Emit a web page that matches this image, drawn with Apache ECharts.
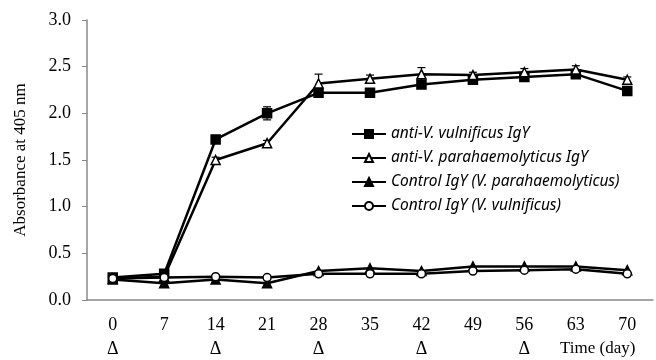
<!DOCTYPE html>
<html><head><meta charset="utf-8">
<script src="https://cdn.jsdelivr.net/npm/echarts@6/dist/echarts.min.js"></script>
<style>html,body{margin:0;padding:0;background:#fff}#c{width:656px;height:360px}</style>
</head><body><div id="c"></div>
<script>
const days = ['0','7','14','21','28','35','42','49','56','63','70'];
const marked = ['0','14','28','42','56'];
const antiVulnificus = [0.24,0.28,1.72,2.00,2.22,2.22,2.31,2.36,2.39,2.42,2.24];
const antiVulnificusErr = [0.02,0.02,0.04,0.07,0.03,0.02,0.02,0.02,0.03,0.03,0.03];
const antiPara = [0.23,0.25,1.50,1.68,2.32,2.37,2.42,2.41,2.44,2.47,2.36];
const antiParaErr = [0.02,0.02,0.03,0.03,0.10,0.04,0.07,0.03,0.04,0.04,0.03];
const ctrlPara = [0.22,0.18,0.22,0.18,0.31,0.34,0.31,0.36,0.36,0.36,0.32];
const ctrlVulnificus = [0.23,0.24,0.25,0.24,0.28,0.28,0.28,0.31,0.32,0.33,0.28];
const names = ['anti-V. vulnificus IgY','anti-V. parahaemolyticus IgY','Control IgY (V. parahaemolyticus)','Control IgY (V. vulnificus)'];

const chart = echarts.init(document.getElementById('c'));
const serif = '"Liberation Serif","Times New Roman",serif';
function errSeries(vals, errs){
  return {
    type:'custom', silent:true, z:1,
    data: vals.map((v,i)=>[i, v, errs[i]]),
    renderItem:function(params, api){
      const i = api.value(0), v = api.value(1), e = api.value(2);
      const top = api.coord([i, v+e]), bot = api.coord([i, v-e]);
      const w = 4;
      return {type:'group', children:[
        {type:'line', shape:{x1:top[0],y1:top[1],x2:bot[0],y2:bot[1]}, style:{stroke:'#000',lineWidth:1.2}},
        {type:'line', shape:{x1:top[0]-w,y1:top[1],x2:top[0]+w,y2:top[1]}, style:{stroke:'#000',lineWidth:1.2}},
        {type:'line', shape:{x1:bot[0]-w,y1:bot[1],x2:bot[0]+w,y2:bot[1]}, style:{stroke:'#000',lineWidth:1.2}}
      ]};
    }
  };
}
function lineSeries(name, data, symbol, fill, size){
  return {
    name, type:'line', data, symbol, symbolSize:size, z:3,
    lineStyle:{color:'#000', width:2.5},
    itemStyle:{color:fill, borderColor:'#000', borderWidth:1.5},
    emphasis:{disabled:true}
  };
}
chart.setOption({
  animation:false,
  grid:{left:87, right:3, top:20, bottom:60, outerBoundsMode:'none', containLabel:false},
  legend:{
    data:names, orient:'vertical', left:346, top:121,
    itemWidth:34, itemHeight:10, itemGap:8,
    textStyle:{fontFamily:'"Noto Sans","DejaVu Sans",sans-serif', fontStyle:'italic', fontSize:15.5, color:'#000'}
  },
  xAxis:{
    type:'category', data:days, boundaryGap:true,
    axisLine:{lineStyle:{color:'#888', width:1.5}},
    axisTick:{inside:true, length:5, lineStyle:{color:'#888'}},
    axisLabel:{
      fontFamily:serif, fontSize:18, color:'#000', margin:13, lineHeight:24,
      formatter:v => marked.includes(v) ? v + '\nΔ' : v + '\n '
    }
  },
  yAxis:{
    type:'value', min:0, max:3, interval:0.5,
    name:'Absorbance at 405 nm', nameLocation:'middle', nameGap:58,
    nameTextStyle:{fontFamily:serif, fontSize:17, color:'#000'},
    axisLine:{show:true, lineStyle:{color:'#888', width:1.5}},
    axisTick:{show:true, length:5, lineStyle:{color:'#888'}},
    splitLine:{show:false},
    axisLabel:{fontFamily:serif, fontSize:18, color:'#000', margin:16, formatter:v=>v.toFixed(1)}
  },
  graphic:[{type:'text', left:560, top:340, style:{text:'Time (day)', font:'17px "Liberation Serif", serif', fill:'#000'}}],
  series:[
    errSeries(antiVulnificus, antiVulnificusErr),
    errSeries(antiPara, antiParaErr),
    lineSeries(names[0], antiVulnificus, 'rect', '#000', 9),
    lineSeries(names[1], antiPara, 'triangle', '#fff', 9),
    lineSeries(names[2], ctrlPara, 'triangle', '#000', 9),
    lineSeries(names[3], ctrlVulnificus, 'circle', '#fff', 8)
  ]
});
</script></body></html>
